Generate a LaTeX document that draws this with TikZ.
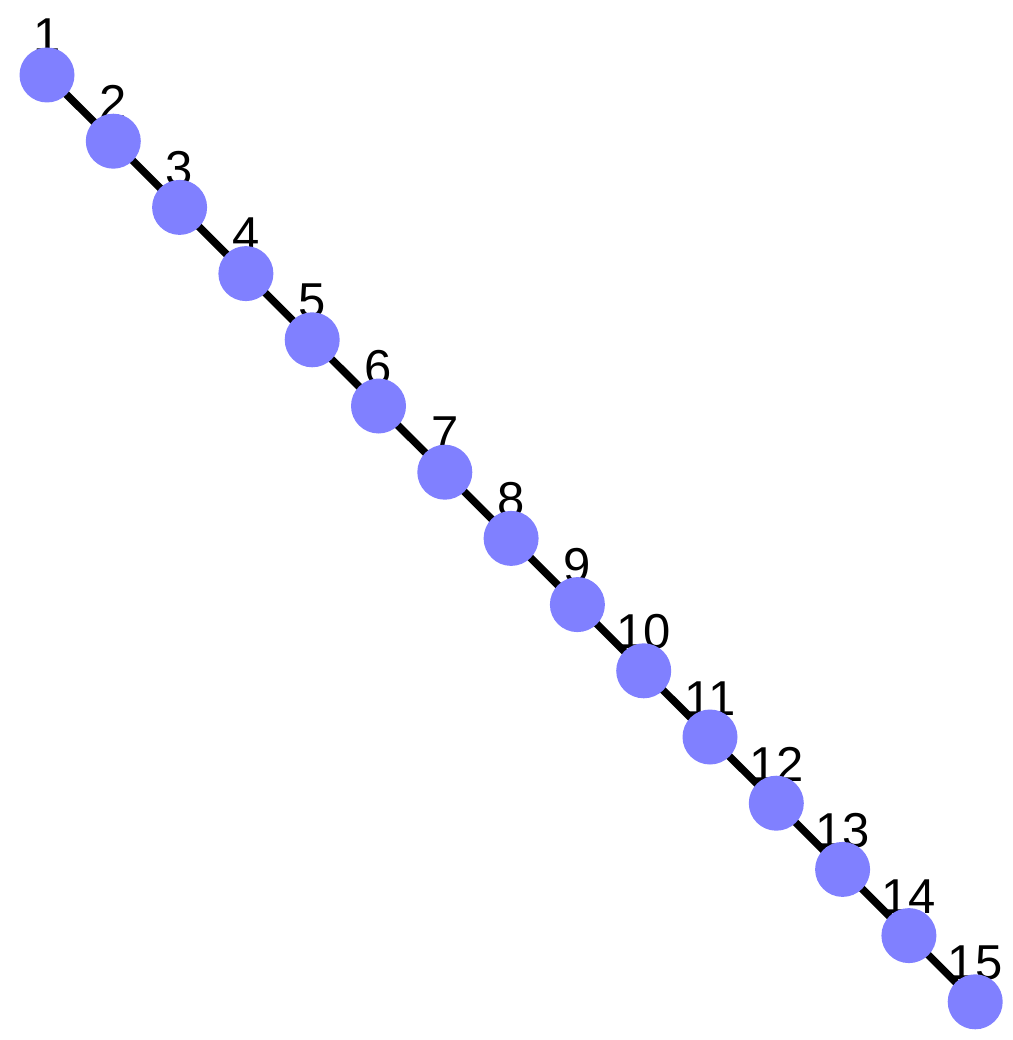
\documentclass[tikz,border=0pt]{standalone}
\usepackage{fontspec}
\setmainfont{Liberation Sans}
\usetikzlibrary{backgrounds}
\definecolor{nodeblue}{HTML}{8080FF}
\begin{document}
\begin{tikzpicture}[x=1pt,y=-1pt,
  vtx/.style={circle,fill=nodeblue,minimum size=55pt,inner sep=0pt},
  lbl/.style={anchor=base,inner sep=0pt,font=\fontsize{49}{52}\selectfont},
  edge/.style={line width=7.5pt,black}]
\useasboundingbox (0,0) rectangle (1012,1040);
\foreach \i in {1,...,15}{
  \node[vtx] (n\i) at ({47+66.3*(\i-1)},{75+66.2*(\i-1)}) {};
}
\begin{scope}[on background layer]
\foreach \i [evaluate=\i as \j using int(\i+1)] in {1,...,14}{
  \draw[edge] (n\i.center) -- (n\j.center);
}
\foreach \i in {1,...,15}{
  \node[lbl] (l\i) at ([yshift=22pt]n\i.center) {\i};
}
\end{scope}
\end{tikzpicture}
\end{document}
